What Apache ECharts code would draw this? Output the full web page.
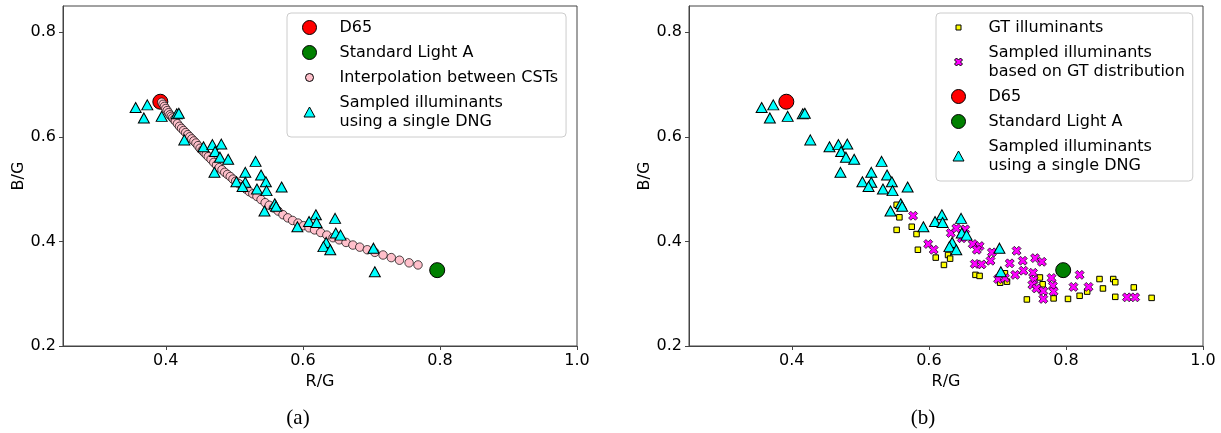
<!DOCTYPE html>
<html><head><meta charset="utf-8">
<script src="https://cdn.jsdelivr.net/npm/echarts@6/dist/echarts.min.js"></script>
<style>html,body{margin:0;padding:0;background:#fff}#c{width:1221px;height:433px}</style>
</head><body><div id="c"></div>
<script>
// ---- data ----
const xTicks = [0.4, 0.6, 0.8, 1.0];
const yTicks = [0.2, 0.4, 0.6, 0.8];
const captions = ['(a)', '(b)'];

const d65 = [[0.392, 0.667]];
const lightA = [[0.796, 0.345]];

const interpolation = [
  [0.394,0.666],[0.396,0.662],[0.398,0.658],[0.400,0.654],[0.402,0.650],[0.404,0.646],[0.406,0.642],
  [0.408,0.639],[0.410,0.636],[0.412,0.633],[0.414,0.630],[0.417,0.625],[0.420,0.620],[0.423,0.616],
  [0.426,0.612],[0.429,0.608],[0.432,0.604],[0.435,0.600],[0.438,0.596],[0.441,0.592],[0.444,0.588],
  [0.447,0.583],[0.450,0.578],[0.453,0.574],[0.456,0.570],[0.459,0.566],[0.462,0.562],[0.466,0.557],
  [0.470,0.551],[0.474,0.546],[0.478,0.541],[0.482,0.537],[0.486,0.532],[0.490,0.528],[0.494,0.524],
  [0.498,0.519],[0.502,0.515],[0.507,0.510],[0.512,0.505],[0.517,0.500],[0.522,0.495],[0.527,0.491],
  [0.533,0.486],[0.539,0.480],[0.545,0.474],[0.551,0.469],[0.557,0.464],[0.564,0.458],[0.571,0.451],
  [0.578,0.445],[0.585,0.440],[0.593,0.435],[0.601,0.430],[0.609,0.426],[0.617,0.422],[0.626,0.417],
  [0.635,0.412],[0.644,0.407],[0.653,0.403],[0.663,0.398],[0.673,0.393],[0.683,0.389],[0.694,0.384],
  [0.705,0.379],[0.717,0.374],[0.729,0.369],[0.741,0.364],[0.755,0.359],[0.768,0.355]
];

const dngSamples = [
  [0.356,0.656],[0.373,0.661],[0.368,0.636],[0.394,0.639],[0.416,0.644],[0.419,0.645],[0.427,0.594],
  [0.455,0.581],[0.468,0.585],[0.481,0.586],[0.472,0.572],[0.479,0.561],[0.491,0.557],[0.471,0.532],
  [0.531,0.553],[0.516,0.532],[0.539,0.527],[0.503,0.514],[0.516,0.513],[0.546,0.514],[0.512,0.505],
  [0.533,0.500],[0.547,0.497],[0.569,0.504],[0.559,0.472],[0.561,0.467],[0.544,0.458],[0.619,0.451],
  [0.609,0.438],[0.620,0.436],[0.647,0.444],[0.592,0.428],[0.648,0.416],[0.655,0.412],[0.634,0.398],
  [0.630,0.390],[0.640,0.384],[0.703,0.387],[0.705,0.342]
];

const gtIlluminants = [
  [0.553,0.470],[0.557,0.446],[0.575,0.428],[0.553,0.422],[0.582,0.414],[0.584,0.384],[0.610,0.369],
  [0.622,0.355],[0.628,0.374],[0.631,0.367],[0.668,0.336],[0.674,0.334],[0.704,0.321],[0.711,0.339],
  [0.714,0.323],[0.743,0.289],[0.762,0.331],[0.766,0.318],[0.782,0.291],[0.803,0.290],[0.820,0.296],
  [0.831,0.304],[0.849,0.328],[0.854,0.310],[0.869,0.328],[0.872,0.322],[0.872,0.294],[0.899,0.312],
  [0.925,0.292]
];

const gtSamples = [
  [0.577,0.449],[0.599,0.395],[0.607,0.384],[0.632,0.416],[0.640,0.425],[0.653,0.423],[0.648,0.406],
  [0.664,0.395],[0.674,0.391],[0.670,0.384],[0.692,0.379],[0.690,0.363],[0.667,0.357],[0.677,0.356],
  [0.701,0.328],[0.711,0.330],[0.728,0.382],[0.718,0.358],[0.737,0.363],[0.755,0.368],[0.765,0.361],
  [0.738,0.344],[0.726,0.336],[0.752,0.340],[0.753,0.326],[0.751,0.317],[0.757,0.310],[0.767,0.305],
  [0.767,0.290],[0.779,0.330],[0.781,0.315],[0.782,0.304],[0.820,0.336],[0.811,0.313],[0.833,0.313],
  [0.889,0.293],[0.901,0.293]
];

// ---- styling ----
const FONT = 'DejaVu Sans';
const AX = '#444';
const N_D65 = 'D65', N_A = 'Standard Light A', N_INT = 'Interpolation between CSTs',
      N_DNG = 'Sampled illuminants\nusing a single DNG', N_GT = 'GT illuminants',
      N_GTS = 'Sampled illuminants\nbased on GT distribution';
const X_PATH = 'path://M0,2.5L2.5,0L5,2.5L7.5,0L10,2.5L7.5,5L10,7.5L7.5,10L5,7.5L2.5,10L0,7.5L2.5,5Z';
const ICON = {
  big: 'path://M0,0M34,15M2,7.5A7,7,0,1,0,16,7.5A7,7,0,1,0,2,7.5Z',
  small: 'path://M0,0M34,15M5,7.5A4,4,0,1,0,13,7.5A4,4,0,1,0,5,7.5Z',
  tri: 'path://M0,0M34,15M9,2.5L14.5,12.5L3.5,12.5Z',
  sq: 'path://M0,0M34,15M6.5,5L11.5,5L11.5,10L6.5,10Z',
  x: 'path://M0,0M34,15M5,5.5L7,3.5L9,5.5L11,3.5L13,5.5L11,7.5L13,9.5L11,11.5L9,9.5L7,11.5L5,9.5L7,7.5Z'
};

function xAx(gi) {
  return {
    type: 'value', gridIndex: gi, min: 0.25, max: 1.0,
    name: 'R/G', nameLocation: 'middle', nameGap: 27,
    nameTextStyle: { fontFamily: FONT, fontSize: 16, color: '#000' },
    axisLine: { show: true, onZero: false, lineStyle: { color: AX, width: 1 } },
    axisTick: { show: true, inside: false, length: 4, customValues: xTicks, lineStyle: { color: AX } },
    axisLabel: { customValues: xTicks, margin: 7, formatter: v => (+v).toFixed(1),
                 fontFamily: FONT, fontSize: 16, color: '#000' },
    splitLine: { show: false }
  };
}
function yAx(gi) {
  return {
    type: 'value', gridIndex: gi, min: 0.2, max: 0.85,
    name: 'B/G', nameLocation: 'middle', nameGap: 36,
    nameTextStyle: { fontFamily: FONT, fontSize: 16, color: '#000' },
    axisLine: { show: true, onZero: false, lineStyle: { color: AX, width: 1 } },
    axisTick: { show: true, inside: false, length: 4, customValues: yTicks, lineStyle: { color: AX } },
    axisLabel: { customValues: yTicks, margin: 7, formatter: v => (+v).toFixed(1),
                 fontFamily: FONT, fontSize: 16, color: '#000' },
    splitLine: { show: false }
  };
}
function legend(left, items) {
  return {
    left: left, top: 13, orient: 'vertical', padding: [5, 8, 6, 13],
    itemWidth: 34, itemHeight: 15, itemGap: 6, selectedMode: false,
    backgroundColor: 'rgba(255,255,255,0.8)', borderColor: '#cccccc', borderWidth: 1, borderRadius: 4,
    textStyle: { fontFamily: FONT, fontSize: 16, lineHeight: 19, color: '#000' },
    itemStyle: { borderWidth: 1 },
    data: items
  };
}
function sc(name, gi, data, symbol, size, color, bw, z) {
  return {
    type: 'scatter', name: name, xAxisIndex: gi, yAxisIndex: gi, data: data,
    symbol: symbol, symbolSize: size, silent: true, z: z,
    itemStyle: { color: color, borderColor: '#000', borderWidth: bw, opacity: 1 },
    emphasis: { disabled: true }
  };
}

const option = {
  animation: false,
  backgroundColor: '#fff',
  grid: [
    { left: 63, right: 644, top: 6, bottom: 87, show: true, borderColor: AX, borderWidth: 1, backgroundColor: 'transparent' },
    { left: 689, right: 18, top: 6, bottom: 87, show: true, borderColor: AX, borderWidth: 1, backgroundColor: 'transparent' }
  ],
  xAxis: [xAx(0), xAx(1)],
  yAxis: [yAx(0), yAx(1)],
  legend: [
    legend(287, [
      { name: N_D65, icon: ICON.big }, { name: N_A, icon: ICON.big },
      { name: N_INT, icon: ICON.small }, { name: N_DNG, icon: ICON.tri }
    ]),
    legend(936, [
      { name: N_GT, icon: ICON.sq }, { name: N_GTS, icon: ICON.x },
      { name: N_D65, icon: ICON.big }, { name: N_A, icon: ICON.big },
      { name: N_DNG, icon: ICON.tri }
    ])
  ],
  series: [
    sc(N_D65, 0, d65, 'circle', 15, '#ff0000', 1, 2),
    sc(N_A, 0, lightA, 'circle', 15, '#008000', 1, 2),
    sc(N_INT, 0, interpolation, 'circle', 8.5, '#ffc0cb', 0.7, 2),
    sc(N_DNG, 0, dngSamples, 'triangle', [11, 10], '#00ffff', 1, 2),
    sc(N_GT, 1, gtIlluminants, 'rect', 5.5, '#ffff00', 1, 2),
    sc(N_GTS, 1, gtSamples, X_PATH, 9, '#ff00ff', 0.7, 2),
    sc(N_D65, 1, d65, 'circle', 15, '#ff0000', 1, 2),
    sc(N_A, 1, lightA, 'circle', 15, '#008000', 1, 2),
    sc(N_DNG, 1, dngSamples, 'triangle', [11, 10], '#00ffff', 1, 2)
  ],
  graphic: [
    { type: 'text', x: 298, y: 418, style: { text: captions[0], align: 'center', verticalAlign: 'middle',
      fontFamily: 'Liberation Serif', fontSize: 21, fill: '#000' } },
    { type: 'text', x: 923, y: 418, style: { text: captions[1], align: 'center', verticalAlign: 'middle',
      fontFamily: 'Liberation Serif', fontSize: 21, fill: '#000' } }
  ]
};
const chart = echarts.init(document.getElementById('c'), null, { renderer: 'canvas' });
chart.setOption(option);
</script>
</body></html>
